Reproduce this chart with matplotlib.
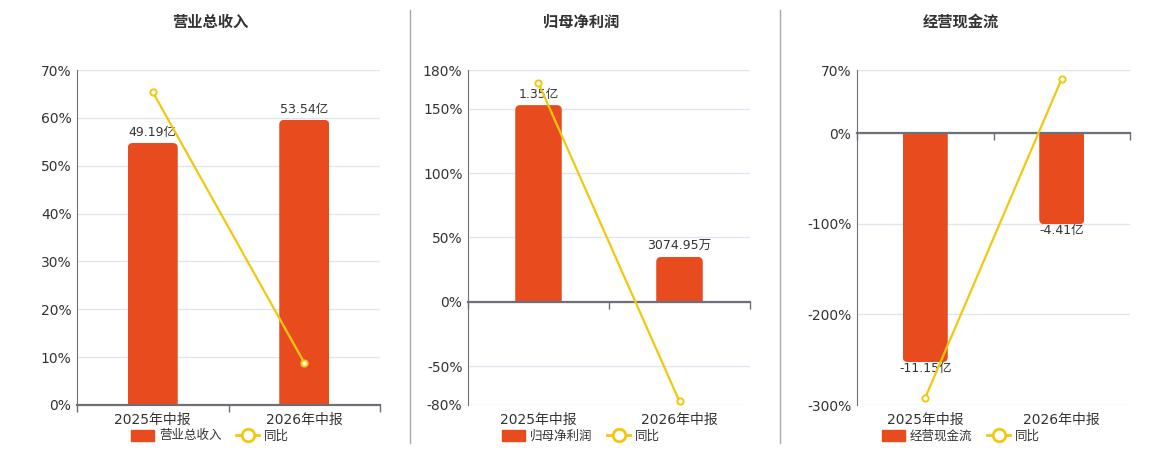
import matplotlib
matplotlib.use("Agg")
from matplotlib import pyplot as plt
from matplotlib.lines import Line2D
from matplotlib.patches import FancyBboxPatch, Rectangle

plt.rcParams["font.family"] = ["DejaVu Sans", "Noto Sans CJK SC"]

periods = ["2025年中报", "2026年中报"]

revenue = [49.19, 53.54]            # 亿
revenue_labels = ["49.19亿", "53.54亿"]
revenue_yoy = [65.4, 8.84]          # %

profit = [1.35, 0.307495]           # 亿
profit_labels = ["1.35亿", "3074.95万"]
profit_yoy = [169.8, -77.2]

cashflow = [-11.15, -4.41]          # 亿
cashflow_labels = ["-11.15亿", "-4.41亿"]
cashflow_yoy = [-292.0, 60.45]

BAR = "#E84C1E"
LINE = "#F2C80F"
TEXT = "#333333"
AXIS = "#6E7079"
GRID = "#E0E6F1"

W, H = 1160, 450


def px_axes(fig, left, right, top, bottom):
    return fig.add_axes([left / W, 1 - bottom / H, (right - left) / W, (bottom - top) / H])


def panel(fig, box, center, title, name, values, labels, yoy, pct_lim, pct_ticks, bar_lim):
    left, right, top, bottom = box
    x = list(range(len(periods)))

    ax = px_axes(fig, left, right, top, bottom)
    ax.set_xlim(-0.5, len(periods) - 0.5)
    ax.set_ylim(*pct_lim)
    ax.set_yticks(pct_ticks)
    ax.set_yticklabels([f"{t}%" for t in pct_ticks])
    ax.grid(axis="y", color=GRID, lw=1)
    ax.set_axisbelow(True)
    ax.set_xticks(x)
    ax.set_xticklabels(periods)
    ax.tick_params(axis="x", length=0, pad=6, labelsize=10, colors=TEXT)
    ax.tick_params(axis="y", length=0, pad=4, labelsize=10, colors=TEXT)
    for s in ["top", "right", "bottom"]:
        ax.spines[s].set_visible(False)
    ax.spines["left"].set_color(AXIS)

    # bars on their own hidden scale
    bx = ax.twinx()
    bx.set_ylim(*bar_lim)
    bx.set_xlim(ax.get_xlim())
    bx.axis("off")
    bars = bx.bar(x, values, width=0.33, color=BAR, lw=0)
    pad = 3 if min(values) >= 0 else 0
    bx.bar_label(bars, labels=labels, padding=pad, fontsize=9, color=TEXT)

    # rounded outer corners: a rounded box clipped to the bar rectangle
    xpx = (right - left) / len(periods)
    ypx = (bottom - top) / (bar_lim[1] - bar_lim[0])
    r = 5
    ry = r / ypx
    for rect in bars:
        y0, h = rect.get_y(), rect.get_height()
        lo, hi = min(y0, y0 + h), max(y0, y0 + h)
        if h >= 0:
            lo -= ry
        else:
            hi += ry
        patch = FancyBboxPatch(
            (rect.get_x(), lo), rect.get_width(), hi - lo,
            boxstyle=f"round,pad=0,rounding_size={r / xpx}",
            mutation_aspect=xpx / ypx, color=BAR, lw=0)
        bx.add_patch(patch)
        patch.set_clip_path(rect)
        rect.set_visible(False)

    # yoy line on top
    lx = ax.twinx()
    lx.set_ylim(*pct_lim)
    lx.set_xlim(ax.get_xlim())
    lx.axis("off")
    lx.plot(x, yoy, color=LINE, lw=1.6, marker="o", ms=4.5,
            mfc="white", mec=LINE, mew=1.4, zorder=5)

    zero = lx.secondary_xaxis(0, transform=lx.transData)
    zero.set_xticks([i - 0.5 for i in range(len(periods) + 1)])
    zero.set_xticklabels([])
    zero.tick_params(length=5, width=1, color=AXIS)
    zero.spines["bottom"].set_color(AXIS)
    zero.spines["bottom"].set_linewidth(1.6)

    fig.text(center / W, 1 - 22 / H, title, ha="center", va="center",
             fontsize=11, fontweight="bold", color=TEXT)

    handles = [
        Rectangle((0, 0), 1, 1, color=BAR),
        Line2D([], [], color=LINE, lw=2, marker="o", ms=9, mfc="white", mec=LINE, mew=2),
    ]
    fig.legend(handles, [name, "同比"], loc="center", ncol=2, frameon=False,
               bbox_to_anchor=(center / W, 1 - 436 / H), fontsize=9,
               labelcolor=TEXT, handlelength=1.8, handleheight=1.0,
               handletextpad=0.4, columnspacing=1.2)


fig = plt.figure(figsize=(11.6, 4.5), dpi=100)

panel(fig, (77, 380, 70, 405), 210, "营业总收入", "营业总收入",
      revenue, revenue_labels, revenue_yoy,
      (0, 70), [0, 10, 20, 30, 40, 50, 60, 70], (0, 62.9))
panel(fig, (468, 750, 70, 405), 581, "归母净利润", "归母净利润",
      profit, profit_labels, profit_yoy,
      (-80, 180), [-80, -50, 0, 50, 100, 150, 180], (-0.709, 1.591))
panel(fig, (857, 1130, 70, 405), 961, "经营现金流", "经营现金流",
      cashflow, cashflow_labels, cashflow_yoy,
      (-300, 70), [-300, -200, -100, 0, 70], (-13.25, 3.13))

for xs in (410, 780):
    fig.add_artist(Line2D([xs / W, xs / W], [1 - 10 / H, 1 - 443 / H],
                          color="#A8A8A8", lw=1))

fig.savefig("out.png", dpi=100)
